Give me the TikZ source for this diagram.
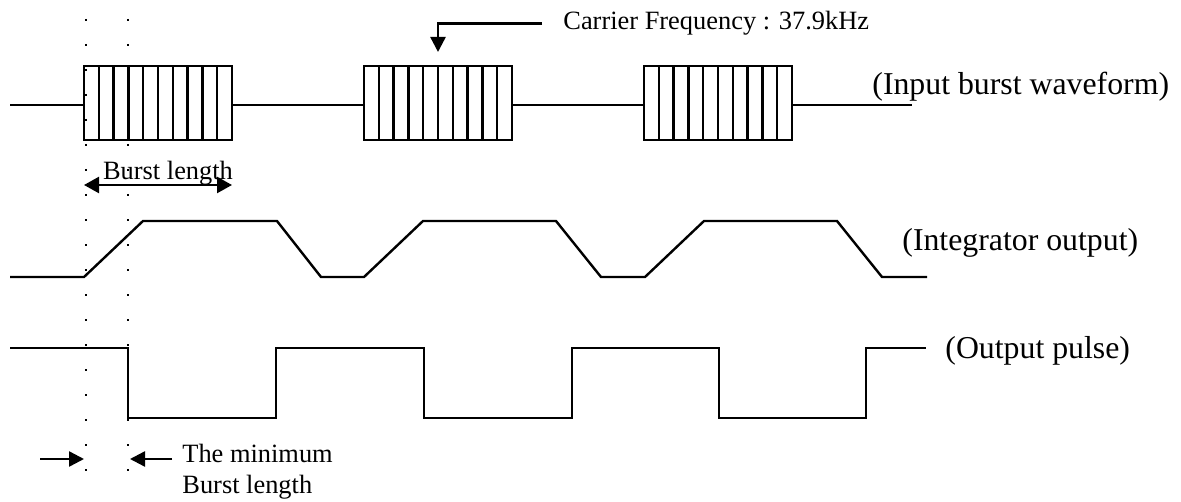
\documentclass[tikz,border=0pt]{standalone}
\usepackage{fontspec}
\setmainfont{Liberation Serif}
\usetikzlibrary{arrows.meta, positioning}

\begin{document}
\begin{tikzpicture}[x=0.5pt, y=-0.5pt,
  wave/.style = {line width=1.2pt},
  guide/.style = {line width=1.2pt, dash pattern=on 1.2pt off 11.3pt},
  pointer/.style = {line width=1.2pt, -{Triangle[length=7.5pt, width=7.5pt]}},
  smalltext/.style = {font=\fontsize{13.2}{16}\selectfont, inner sep=0pt},
  bigtext/.style = {font=\fontsize{15.9}{19}\selectfont, inner sep=0pt}
]
\useasboundingbox (0,0) rectangle (1181,502);

% dotted guides
\draw[guide] (86,19) -- (86,472);
\draw[guide] (128,19) -- (128,472);

% input bursts
\draw[wave] (10,105) -- (84,105) (232,105) -- (364,105)
  (512,105) -- (644,105) (792,105) -- (912,105);
\foreach \s in {0,280,560} {
  \draw[wave] (84+\s,66) rectangle (232+\s,140);
  \foreach \k in {1,...,9}
    \draw[wave] (84+\s+14.8*\k,66) -- (84+\s+14.8*\k,140);
}

% integrator output
\draw[wave] (10,277) -- (84,277) -- (143,221) -- (277,221) -- (321,277)
  -- (364,277) -- (423,221) -- (556,221) -- (601,277)
  -- (645,277) -- (704,221) -- (837,221) -- (882,277) -- (927,277);

% output pulse
\draw[wave] (10,348) -- (128,348) -- (128,418) -- (276,418) -- (276,348)
  -- (424,348) -- (424,418) -- (572,418) -- (572,348)
  -- (719,348) -- (719,418) -- (866,418) -- (866,348) -- (926,348);

% labels
\node[bigtext, anchor=base west] (inlbl) at (872,95) {(Input burst waveform)};
\node[bigtext, anchor=base west] (intlbl) at (902,250) {(Integrator output)};
\node[bigtext, anchor=base west] (outlbl) at (945,358) {(Output pulse)};

\node[smalltext, anchor=base west] (carrier) at (563,30) {Carrier Frequency : 37.9kHz};
\coordinate (ctip) at (438,52);
\draw[pointer] ([xshift=-10.5pt]carrier.west) -| (ctip);

\node[smalltext, anchor=base] (burst) at (168,180) {Burst length};
\coordinate (bl) at (84,185);
\coordinate (br) at (232,185);
\draw[pointer, {Triangle[length=7.5pt, width=8pt]}-{Triangle[length=7.5pt, width=8pt]}] (bl) -- (br);

\node[smalltext, anchor=base west] (minlbl) at (182,462) {The minimum};
\node[smalltext, anchor=base west] (minlbl2) at (182,493) {Burst length};
\coordinate (ml) at (40,459);
\coordinate (mla) at (84,459);
\coordinate (mr) at (172,459);
\coordinate (mra) at (130,459);
\draw[pointer] (ml) -- (mla);
\draw[pointer] (mr) -- (mra);
\end{tikzpicture}
\end{document}
